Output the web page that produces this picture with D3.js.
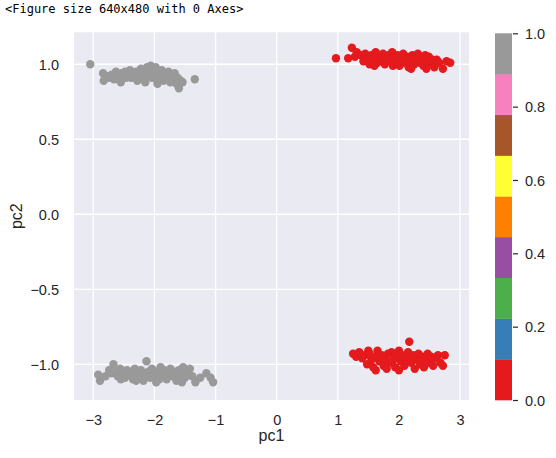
<!DOCTYPE html>
<html><head><meta charset="utf-8">
<script src="https://cdn.jsdelivr.net/npm/d3@7"></script>
<style>
html,body{margin:0;padding:0;background:#fff;}
svg{display:block;}
</style></head>
<body>
<script>
// ---- data ----
const grayTop = [[-3.05,1.00],[-2.84,0.94],[-2.83,0.89],[-2.78,0.92],[-2.74,0.91],[-2.70,0.93],[-2.66,0.90],[-2.63,0.95],[-2.60,0.92],[-2.57,0.90],[-2.54,0.94],[-2.51,0.92],[-2.48,0.95],[-2.46,0.91],[-2.43,0.93],[-2.40,0.96],[-2.38,0.91],[-2.35,0.94],[-2.32,0.92],[-2.30,0.95],[-2.27,0.90],[-2.25,0.93],[-2.22,0.97],[-2.20,0.91],[-2.17,0.95],[-2.15,0.93],[-2.12,0.98],[-2.10,0.92],[-2.08,0.95],[-2.06,0.99],[-2.04,0.91],[-2.02,0.96],[-2.00,0.93],[-1.98,0.98],[-1.96,0.90],[-1.93,0.94],[-1.90,0.92],[-1.88,0.96],[-1.85,0.89],[-1.82,0.93],[-1.80,0.91],[-1.77,0.95],[-1.74,0.88],[-1.72,0.92],[-1.69,0.90],[-1.67,0.94],[-1.64,0.87],[-1.62,0.91],[-1.60,0.84],[-1.57,0.89],[-1.54,0.88],[-1.34,0.90],[-2.55,0.88],[-2.28,0.89],[-2.15,0.88],[-1.95,0.87]];
const grayBottom = [[-2.92,-1.07],[-2.89,-1.11],[-2.80,-1.08],[-2.74,-1.04],[-2.70,-1.06],[-2.67,-1.00],[-2.63,-1.05],[-2.60,-1.08],[-2.56,-1.03],[-2.52,-1.06],[-2.48,-1.09],[-2.45,-1.04],[-2.42,-1.07],[-2.38,-1.05],[-2.35,-1.10],[-2.32,-1.03],[-2.28,-1.06],[-2.25,-1.08],[-2.22,-1.04],[-2.18,-1.11],[-2.15,-1.06],[-2.13,-0.98],[-2.10,-1.05],[-2.07,-1.09],[-2.04,-1.03],[-2.00,-1.07],[-1.97,-1.12],[-1.94,-1.05],[-1.90,-1.02],[-1.87,-1.08],[-1.84,-1.04],[-1.80,-1.10],[-1.77,-1.06],[-1.74,-1.03],[-1.70,-1.08],[-1.67,-1.05],[-1.64,-1.11],[-1.60,-1.04],[-1.57,-1.07],[-1.53,-1.02],[-1.50,-1.09],[-1.46,-1.05],[-1.42,-1.03],[-1.38,-1.08],[-1.33,-1.12],[-1.25,-1.09],[-1.15,-1.06],[-1.08,-1.09],[-1.04,-1.12],[-2.55,-1.10],[-2.30,-1.11],[-1.92,-1.10],[-1.55,-1.12]];
const redTop = [[0.97,1.04],[1.17,1.04],[1.23,1.11],[1.31,1.08],[1.28,1.05],[1.38,1.06],[1.42,1.02],[1.45,1.07],[1.48,1.04],[1.52,1.00],[1.55,1.06],[1.58,1.03],[1.62,1.08],[1.65,1.01],[1.68,1.05],[1.71,1.03],[1.74,1.07],[1.77,1.00],[1.80,1.04],[1.83,1.06],[1.86,1.02],[1.89,1.08],[1.92,1.04],[1.95,1.01],[1.98,1.06],[2.01,0.99],[2.04,1.03],[2.07,1.07],[2.10,1.01],[2.13,1.05],[2.16,0.98],[2.19,1.03],[2.22,1.06],[2.25,1.00],[2.28,1.04],[2.31,1.07],[2.34,1.01],[2.37,1.04],[2.40,0.99],[2.43,1.06],[2.46,1.02],[2.49,1.05],[2.52,1.00],[2.55,1.03],[2.58,0.98],[2.62,1.03],[2.66,1.01],[2.72,0.97],[2.78,1.02],[2.84,1.01],[1.60,0.99],[1.90,0.99],[2.20,0.97],[2.45,0.97]];
const redBottom = [[1.25,-0.93],[1.30,-0.95],[1.35,-0.92],[1.40,-0.96],[1.44,-0.94],[1.48,-1.00],[1.52,-0.93],[1.55,-0.97],[1.58,-1.02],[1.62,-0.95],[1.65,-0.91],[1.68,-0.98],[1.72,-0.94],[1.75,-1.01],[1.78,-0.96],[1.82,-0.93],[1.85,-0.99],[1.88,-0.92],[1.91,-0.97],[1.94,-1.02],[1.97,-0.95],[2.00,-0.91],[2.03,-0.98],[2.06,-0.94],[2.09,-1.01],[2.12,-0.96],[2.15,-0.92],[2.17,-0.85],[2.20,-0.99],[2.23,-0.94],[2.26,-1.03],[2.29,-0.97],[2.32,-0.93],[2.35,-1.00],[2.38,-0.95],[2.41,-1.02],[2.44,-0.97],[2.47,-0.93],[2.50,-0.99],[2.53,-0.95],[2.56,-1.01],[2.60,-0.96],[2.64,-0.94],[2.68,-0.99],[2.72,-1.01],[2.75,-0.94],[1.50,-0.91],[1.80,-1.03],[2.00,-1.04],[1.62,-1.04]];
const groupValues = [1, 1, 0, 0];   // colour value of each cluster
const xTicks = [-3, -2, -1, 0, 1, 2, 3];
const yTicks = [-1.0, -0.5, 0.0, 0.5, 1.0];
const cbTicks = [0.0, 0.2, 0.4, 0.6, 0.8, 1.0];
const header = "<Figure size 640x480 with 0 Axes>";

// ---- layout ----
const W = 556, H = 458;
const plot = {l: 74, r: 469, t: 32.3, b: 400};
const cb = {l: 495, r: 512, t: 33.3, b: 400};
const txt = "#262626";
const font = "'Liberation Sans', Arial, sans-serif";

const svg = d3.select("body").append("svg").attr("width", W).attr("height", H);

svg.append("text").attr("x", 5).attr("y", 13)
  .attr("font-family", "'DejaVu Sans Mono', monospace").attr("font-size", 12)
  .attr("fill", "#000").text(header);

const x = d3.scaleLinear().domain([-3.316, 3.147]).range([plot.l, plot.r]);
const y = d3.scaleLinear().domain([-1.238, 1.213]).range([plot.b, plot.t]);

svg.append("rect").attr("x", plot.l).attr("y", plot.t)
  .attr("width", plot.r - plot.l).attr("height", plot.b - plot.t).attr("fill", "#EAEAF2");

const grid = svg.append("g");
grid.selectAll(".gx").data(xTicks).join("line")
  .attr("x1", d => x(d)).attr("x2", d => x(d)).attr("y1", plot.t).attr("y2", plot.b)
  .attr("stroke", "#fff").attr("stroke-width", 1.3);
grid.selectAll(".gy").data(yTicks).join("line")
  .attr("y1", d => y(d)).attr("y2", d => y(d)).attr("x1", plot.l).attr("x2", plot.r)
  .attr("stroke", "#fff").attr("stroke-width", 1.3);

const set1 = d3.schemeSet1;
const color = d3.scaleQuantize().domain([0, 1]).range(set1);
const colorOf = v => v >= 1 ? set1[set1.length - 1] : color(v);

const groups = [grayTop, grayBottom, redTop, redBottom];
const pts = svg.append("g");
groups.forEach((g, i) => {
  pts.selectAll(null).data(g).join("circle")
    .attr("cx", d => x(d[0])).attr("cy", d => y(d[1])).attr("r", 4.2)
    .attr("fill", colorOf(groupValues[i]));
});

// axes
const xAxis = d3.axisBottom(x).tickValues(xTicks).tickSize(0).tickPadding(0)
  .tickFormat(d => d3.format("")(d).replace("-", "\u2212"));
const gx = svg.append("g").attr("transform", `translate(0,${plot.b})`).call(xAxis);
gx.select(".domain").remove();
gx.selectAll("text").attr("y", 25).attr("dy", 0).attr("font-size", 14.5).attr("font-family", font).attr("fill", txt);

const yAxis = d3.axisLeft(y).tickValues(yTicks).tickSize(0)
  .tickFormat(d => d3.format(".1f")(d).replace("-", "\u2212"));
const gy = svg.append("g").attr("transform", `translate(${plot.l},0)`).call(yAxis);
gy.select(".domain").remove();
gy.selectAll("text").attr("x", -15).attr("dy", "0.36em").attr("font-size", 14.5).attr("font-family", font).attr("fill", txt);

svg.append("text").attr("x", (plot.l + plot.r) / 2).attr("y", 441).attr("text-anchor", "middle")
  .attr("font-size", 16).attr("font-family", font).attr("fill", txt).text("pc1");
svg.append("text").attr("transform", `translate(22,${(plot.t + plot.b) / 2}) rotate(-90)`)
  .attr("text-anchor", "middle").attr("font-size", 16).attr("font-family", font).attr("fill", txt).text("pc2");

// colorbar
const cy = d3.scaleLinear().domain([0, 1]).range([cb.b, cb.t]);
const bins = set1.map((c, i) => ({c, v0: i / set1.length, v1: (i + 1) / set1.length}));
svg.append("g").selectAll("rect").data(bins).join("rect")
  .attr("x", cb.l).attr("width", cb.r - cb.l)
  .attr("y", d => cy(d.v1)).attr("height", d => cy(d.v0) - cy(d.v1) + 0.3)
  .attr("fill", d => d.c);
const cAxis = d3.axisRight(cy).tickValues(cbTicks).tickSize(5).tickPadding(7).tickFormat(d3.format(".1f"));
const gc = svg.append("g").attr("transform", `translate(${cb.r + 1},0)`).call(cAxis);
gc.select(".domain").remove();
gc.selectAll("line").attr("stroke", txt).attr("stroke-width", 1.2);
gc.selectAll("text").attr("dy", "0.36em").attr("font-size", 14.5).attr("font-family", font).attr("fill", txt);
</script>
</body></html>
